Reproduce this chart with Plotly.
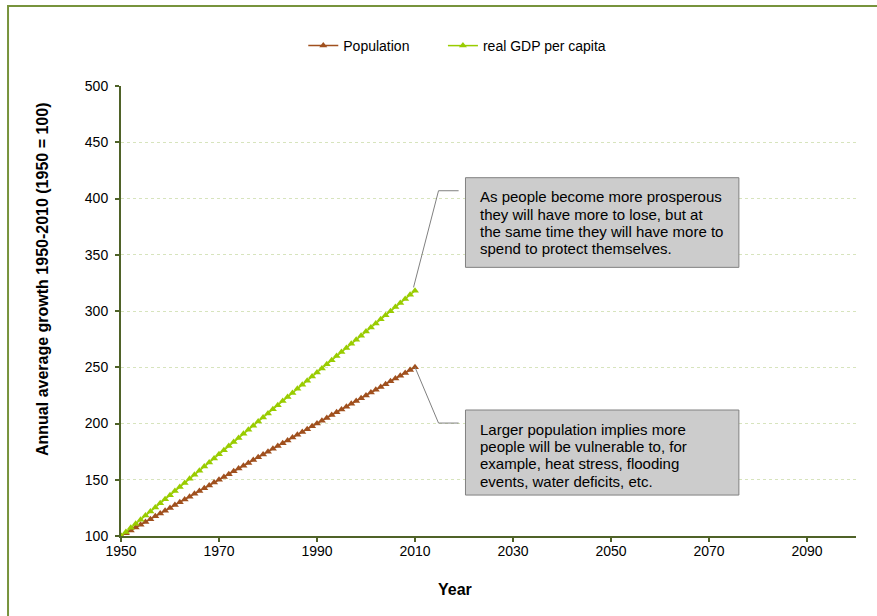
import plotly.graph_objects as go

# Index values (1950 = 100), one point per year
years = list(range(1950, 2011))
population = [
    100.0, 102.5, 105.0, 107.5, 110.0, 112.5, 115.0, 117.5, 120.0, 122.5,
    125.0, 127.5, 130.0, 132.5, 135.0, 137.5, 140.0, 142.5, 145.0, 147.5,
    150.0, 152.5, 155.0, 157.5, 160.0, 162.5, 165.0, 167.5, 170.0, 172.5,
    175.0, 177.5, 180.0, 182.5, 185.0, 187.5, 190.0, 192.5, 195.0, 197.5,
    200.0, 202.5, 205.0, 207.5, 210.0, 212.5, 215.0, 217.5, 220.0, 222.5,
    225.0, 227.5, 230.0, 232.5, 235.0, 237.5, 240.0, 242.5, 245.0, 247.5,
    250.0,
]
gdp_per_capita = [
    100.0, 103.6, 107.3, 110.9, 114.5, 118.2, 121.8, 125.4, 129.1, 132.7,
    136.3, 140.0, 143.6, 147.2, 150.9, 154.5, 158.1, 161.8, 165.4, 169.0,
    172.7, 176.3, 179.9, 183.6, 187.2, 190.8, 194.5, 198.1, 201.7, 205.4,
    209.0, 212.6, 216.3, 219.9, 223.5, 227.2, 230.8, 234.4, 238.1, 241.7,
    245.3, 249.0, 252.6, 256.2, 259.9, 263.5, 267.1, 270.8, 274.4, 278.0,
    281.7, 285.3, 288.9, 292.6, 296.2, 299.8, 303.5, 307.1, 310.7, 314.4,
    318.0,
]
x_ticks = [1950, 1970, 1990, 2010, 2030, 2050, 2070, 2090]
y_ticks = [100, 150, 200, 250, 300, 350, 400, 450, 500]

note_gdp = ["As people become more prosperous",
            "they will have more to lose, but at",
            "the same time they will have more to",
            "spend to protect themselves."]
note_pop = ["Larger population implies more",
            "people will be vulnerable to, for",
            "example, heat stress, flooding",
            "events, water deficits, etc."]

FONT = "Arial, Liberation Sans, sans-serif"
AXIS = "#4F6228"
BROWN = "#A0501E"
GREEN = "#99CC00"

fig = go.Figure()
fig.add_trace(go.Scatter(
    x=years, y=population, name="Population", mode="lines+markers",
    line=dict(color=BROWN, width=1.5),
    marker=dict(symbol="triangle-up", size=7, color=BROWN),
    legend="legend",
))
fig.add_trace(go.Scatter(
    x=years, y=gdp_per_capita, name="real GDP per capita", mode="lines+markers",
    line=dict(color=GREEN, width=1.5),
    marker=dict(symbol="triangle-up", size=7, color=GREEN),
    legend="legend2",
))

# y data units per pixel of the plot area (400 units over 450 px)
DY = 400 / 450

# Callout boxes (data units) with elbow leader lines to the series end points
boxes = [
    dict(x0=2020.3, x1=2076.1, y_top=418.5, y_bot=338.8, elbow_y=406.9,
         end=(years[-1] - 0.3, gdp_per_capita[-1] + 3.0), lines=note_gdp),
    dict(x0=2020.3, x1=2076.1, y_top=212.0, y_bot=136.4, elbow_y=200.4,
         end=(years[-1], population[-1]), lines=note_pop),
]

shapes = []
annotations = []
for b in boxes:
    shapes.append(dict(type="rect", xref="x", yref="y", x0=b["x0"], x1=b["x1"],
                       y0=b["y_bot"], y1=b["y_top"], fillcolor="#CCCCCC",
                       line=dict(color="#808080", width=1), layer="above"))
    ex, ey = b["end"]
    path = (f"M {b['x0'] - 1.4},{b['elbow_y']} L {b['x0'] - 5.5},{b['elbow_y']} "
            f"L {ex},{ey}")
    shapes.append(dict(type="path", xref="x", yref="y", path=path,
                       line=dict(color="#808080", width=1), layer="above"))
    for i, line in enumerate(b["lines"]):
        annotations.append(dict(xref="x", yref="y", x=b["x0"] + 2.5,
                                y=b["y_top"] - (19.3 + 17.3 * i) * DY,
                                xanchor="left", yanchor="middle", align="left",
                                showarrow=False, text=line,
                                font=dict(family=FONT, size=15, color="#000000")))

# Outer chart border
shapes.append(dict(type="rect", xref="paper", yref="paper",
                   x0=-0.1537, x1=1.08, y0=-0.25, y1=1.1778,
                   line=dict(color="#77933C", width=2), fillcolor="rgba(0,0,0,0)"))

annotations.append(dict(xref="paper", yref="paper", x=-0.1075, y=0.571,
                        xanchor="center", yanchor="middle", textangle=-90,
                        showarrow=False, text="<b>Annual average growth 1950-2010 (1950 = 100)</b>",
                        font=dict(family=FONT, size=16, color="#000000")))
annotations.append(dict(xref="paper", yref="paper", x=0.454, y=-0.118,
                        xanchor="center", yanchor="middle", showarrow=False,
                        text="<b>Year</b>", font=dict(family=FONT, size=16, color="#000000")))

legend_style = dict(orientation="h", y=1.0 + 40 / 450, xanchor="left", yanchor="middle",
                    font=dict(family=FONT, size=14, color="#000000"),
                    itemwidth=30, bgcolor="rgba(0,0,0,0)")

fig.update_layout(
    width=877, height=616,
    margin=dict(l=121, r=21, t=86, b=80),
    paper_bgcolor="white", plot_bgcolor="white",
    font=dict(family=FONT, size=14, color="#000000"),
    showlegend=True,
    legend=dict(x=0.248, **legend_style),
    legend2=dict(x=0.438, **legend_style),
    shapes=shapes,
    annotations=annotations,
)
fig.update_xaxes(range=[1950, 2100], tickvals=x_ticks, ticktext=[str(v) for v in x_ticks],
                 showgrid=False, zeroline=False, showline=True, linecolor=AXIS, linewidth=2,
                 ticks="outside", ticklen=4, tickcolor=AXIS, tickwidth=2,
                 ticklabelstandoff=-3,
                 tickfont=dict(family=FONT, size=14, color="#000000"))
fig.update_yaxes(range=[100, 500], tickvals=y_ticks,
                 showgrid=True, gridcolor="#D7E4BD", griddash="dot", gridwidth=1,
                 zeroline=False, showline=True, linecolor=AXIS, linewidth=2,
                 ticks="outside", ticklen=4, tickcolor=AXIS, tickwidth=2,
                 ticklabelstandoff=4,
                 tickfont=dict(family=FONT, size=14, color="#000000"))

fig.write_html("out.html")
